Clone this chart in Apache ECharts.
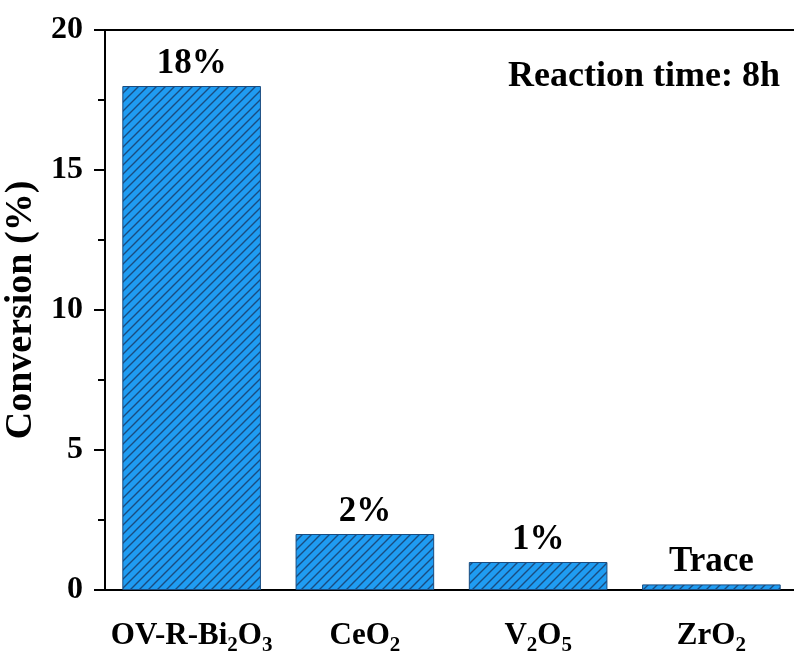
<!DOCTYPE html>
<html>
<head>
<meta charset="utf-8">
<script src="https://cdn.jsdelivr.net/npm/echarts@6/dist/echarts.min.js"></script>
<style>
  html, body { margin: 0; padding: 0; background: #fff; }
  #chart { width: 794px; height: 658px; }
</style>
</head>
<body>
<div id="chart"></div>
<script>
// Catalyst conversion after 8 h
const categories = ['OV-R-Bi2O3', 'CeO2', 'V2O5', 'ZrO2'];
const conversion = [18, 2, 1, 0.2];
const barLabels = ['18%', '2%', '1%', 'Trace'];
const yTicks = [0, 5, 10, 15, 20];

const FONT = '"Liberation Serif", "Times New Roman", serif';

// Diagonal hatch fill for the bars
function hatchPattern() {
  const s = 9;
  const c = document.createElement('canvas');
  c.width = s; c.height = s;
  const g = c.getContext('2d');
  g.fillStyle = '#1f9cf2';
  g.fillRect(0, 0, s, s);
  g.strokeStyle = '#1a4c80';
  g.lineWidth = 1.4;
  g.beginPath();
  g.moveTo(0, s); g.lineTo(s, 0);
  g.moveTo(-s / 2, s / 2); g.lineTo(s / 2, -s / 2);
  g.moveTo(s / 2, s * 1.5); g.lineTo(s * 1.5, s / 2);
  g.stroke();
  return c;
}

// Turn digits in formulas into subscripts
function chemLabel(name) {
  return name.replace(/(\d)/g, '{s|$1}');
}

const chart = echarts.init(document.getElementById('chart'), null, { renderer: 'canvas' });
const pattern = { image: hatchPattern(), repeat: 'repeat' };

chart.setOption({
  animation: false,
  grid: { left: 105, top: 30, right: -4, bottom: 68, containLabel: false, outerBoundsMode: 'none' },
  xAxis: [{
    type: 'category',
    data: categories,
    axisLine: { lineStyle: { color: '#000', width: 2 } },
    axisTick: { show: false },
    axisLabel: {
      interval: 0,
      margin: 25,
      formatter: v => chemLabel(v),
      color: '#000',
      fontFamily: FONT,
      fontWeight: 'bold',
      fontSize: 31,
      rich: {
        s: { fontFamily: FONT, fontWeight: 'bold', fontSize: 21, color: '#000', verticalAlign: 'bottom', padding: [20, 0, 0, 0] }
      }
    }
  }, {
    type: 'category',
    position: 'top',
    data: categories,
    axisLine: { lineStyle: { color: '#000', width: 2 } },
    axisTick: { show: false },
    axisLabel: { show: false }
  }],
  yAxis: {
    type: 'value',
    min: yTicks[0],
    max: yTicks[yTicks.length - 1],
    interval: 5,
    name: 'Conversion (%)',
    nameLocation: 'middle',
    nameGap: 60,
    nameTextStyle: { fontFamily: FONT, fontWeight: 'bold', fontSize: 38, color: '#000' },
    axisLine: { show: true, lineStyle: { color: '#000', width: 2 } },
    axisTick: { show: true, inside: false, length: 11, lineStyle: { color: '#000', width: 2 } },
    minorTick: { show: true, splitNumber: 2, length: 7, lineStyle: { color: '#000', width: 2 } },
    splitLine: { show: false },
    axisLabel: {
      margin: 22,
      color: '#000',
      fontFamily: FONT,
      fontWeight: 'bold',
      fontSize: 32
    }
  },
  series: [{
    type: 'bar',
    data: conversion,
    barWidth: '80%',
    itemStyle: { color: pattern, borderColor: '#1a4c80', borderWidth: 1 },
    label: {
      show: true,
      position: 'top',
      distance: 5,
      formatter: p => barLabels[p.dataIndex],
      color: '#000',
      fontFamily: FONT,
      fontWeight: 'bold',
      fontSize: 35
    }
  }],
  graphic: [{
    type: 'text',
    x: 780,
    y: 77,
    style: {
      text: 'Reaction time: 8h',
      fill: '#000',
      font: 'bold 36px ' + FONT,
      textAlign: 'right',
      textVerticalAlign: 'middle'
    }
  }]
});
</script>
</body>
</html>
